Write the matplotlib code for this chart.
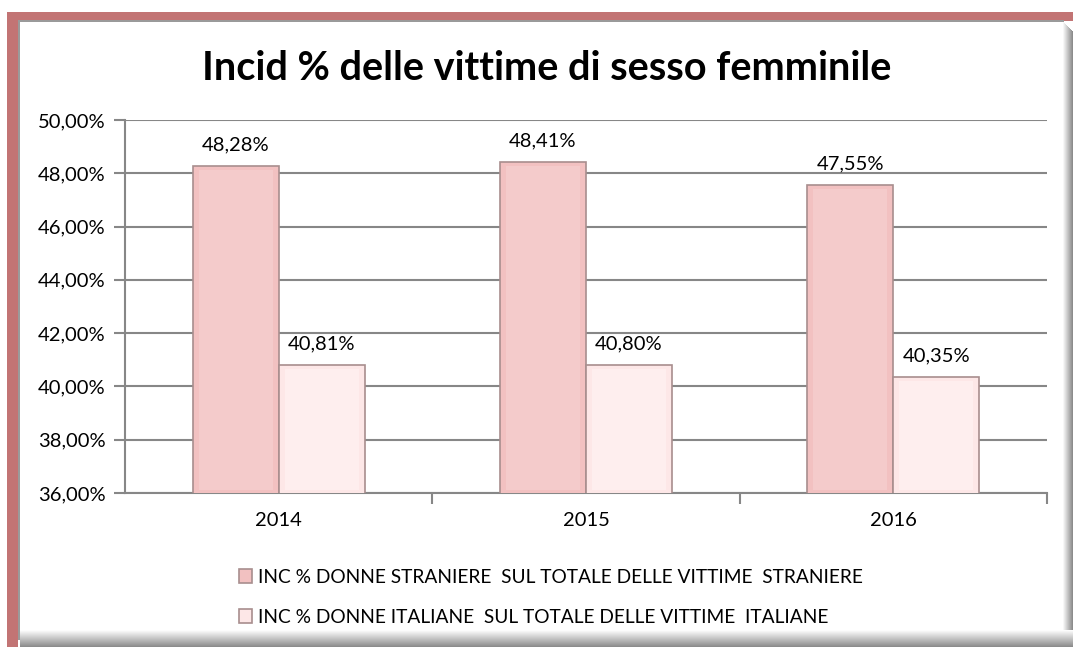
import numpy as np
import matplotlib
matplotlib.use("Agg")
import matplotlib.pyplot as plt
from matplotlib.patches import Rectangle
from matplotlib.ticker import FuncFormatter, FixedLocator

anni = ["2014", "2015", "2016"]
straniere = [48.28, 48.41, 47.55]
italiane = [40.81, 40.80, 40.35]
nome_straniere = "INC % DONNE STRANIERE  SUL TOTALE DELLE VITTIME  STRANIERE"
nome_italiane = "INC % DONNE ITALIANE  SUL TOTALE DELLE VITTIME  ITALIANE"

plt.rcParams["font.family"] = ["Lato", "DejaVu Sans"]

W, H = 1074, 648
fig = plt.figure(figsize=(W / 100, H / 100), dpi=100)


def px_rect(x0, y0, x1, y1, color):
    # rettangolo in pixel (origine in alto a sinistra)
    fig.patches.append(Rectangle((x0 / W, 1 - y1 / H), (x1 - x0) / W, (y1 - y0) / H,
                                 transform=fig.transFigure, color=color, lw=0, zorder=-5))


# cornice
px_rect(7, 12, 1073, 21, "#C27474")
px_rect(7, 12, 18, 647, "#C27474")
px_rect(18, 20, 1064, 22, "#9A9A9A")
px_rect(18, 20, 20, 640, "#9A9A9A")
grigi = np.linspace(0.97, 0.55, 10)
for i, g in enumerate(grigi):
    px_rect(1063 + i, 22 + i, 1064 + i, 647, (g, g, g))
grigi_b = np.linspace(0.99, 0.55, 17)
for i, g in enumerate(grigi_b):
    px_rect(20, 630 + i, 1073, 631 + i, (g, g, g))

ax = fig.add_axes([125 / W, 1 - 493 / H, (1047 - 125) / W, (493 - 120) / H])

x = np.arange(len(anni))
w = 0.28
b1 = ax.bar(x - w / 2, straniere, w, bottom=0, color="#F2C1C1", edgecolor="#A88E8E", lw=1.2,
            label=nome_straniere, zorder=3)
b2 = ax.bar(x + w / 2, italiane, w, bottom=0, color="#FDE7E7", edgecolor="#A88E8E", lw=1.2,
            label=nome_italiane, zorder=3)

# effetto rilievo
for bars, chiaro in ((b1, "#F7D3D3"), (b2, "#FFF4F4")):
    for r in bars:
        ax.bar(r.get_x() + r.get_width() / 2, r.get_height() - 36.25, r.get_width() * 0.86,
               bottom=36.1, color=chiaro, lw=0, zorder=3.5, alpha=0.6)

for bars, vals in ((b1, straniere), (b2, italiane)):
    for r, v in zip(bars, vals):
        ax.annotate(f"{v:.2f}%".replace(".", ","), (r.get_x() + r.get_width() / 2, v),
                    xytext=(0, 21), textcoords="offset pixels", ha="center", va="center",
                    fontsize=14.5)

ax.set_ylim(36, 50)
ax.set_xlim(-0.5, 2.5)
ax.yaxis.set_major_locator(FixedLocator(np.arange(36, 50.1, 2)))
ax.yaxis.set_major_formatter(FuncFormatter(lambda v, p: f"{v:.2f}%".replace(".", ",")))
ax.grid(axis="y", color="#878787", lw=1.5, zorder=0)
ax.set_axisbelow(True)

ax.set_xticks(x)
ax.set_xticklabels(anni, fontsize=14.5)
ax.set_xticks([0.5, 1.5, 2.5], minor=True)
ax.tick_params(axis="x", which="major", length=0, pad=14)
ax.tick_params(axis="x", which="minor", length=8, width=1.5, color="#878787")
ax.tick_params(axis="y", length=8, width=1.5, color="#878787", labelsize=14.5, pad=6)

for s in ("top", "right"):
    ax.spines[s].set_visible(False)
for s in ("left", "bottom"):
    ax.spines[s].set_color("#878787")
    ax.spines[s].set_linewidth(1.5)

fig.text(547 / W, 1 - 68 / H, "Incid % delle vittime di sesso femminile", ha="center", va="center",
         fontsize=28.5, fontweight="bold")

fig.legend(handles=[b1, b2], loc="upper left", bbox_to_anchor=(229 / W, 1 - 559 / H),
           frameon=False, fontsize=13.8, handlelength=0.7, handleheight=0.7,
           handletextpad=0.3, labelspacing=1.2, borderpad=0)

fig.savefig("out.png", dpi=100)
